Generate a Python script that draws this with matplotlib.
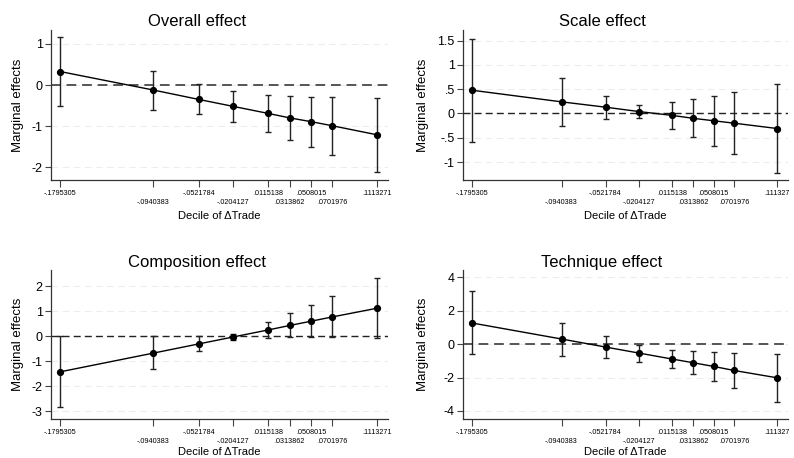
import matplotlib
matplotlib.use("Agg")
import numpy as np
import matplotlib.pyplot as plt

plt.rcParams['font.family'] = ['Liberation Sans', 'DejaVu Sans']

# ---------- data ---------- #
deciles = [-0.1795305, -0.0940383, -0.0521784, -0.0204127, 0.0115138,
           0.0313862, 0.0508015, 0.0701976, 0.1113271]
labels_left = ["-.1795305", "-.0940383", "-.0521784", "-.0204127", ".0115138",
               ".0313862", ".0508015", ".0701976", ".1113271"]
labels_right = ["-.1795305", "-.0940383", "-.0521784", "-.0204127", ".0115138",
                ".0313862", ".0508015", ".0701976", ".111327"]

overall_est = [0.33, -0.12, -0.35, -0.52, -0.69, -0.80, -0.89, -0.99, -1.21]
overall_lo = [-0.50, -0.60, -0.71, -0.90, -1.15, -1.33, -1.51, -1.70, -2.11]
overall_hi = [1.16, 0.34, 0.02, -0.14, -0.23, -0.26, -0.28, -0.30, -0.31]

scale_est = [0.48, 0.24, 0.13, 0.04, -0.04, -0.10, -0.15, -0.20, -0.31]
scale_lo = [-0.59, -0.26, -0.11, -0.10, -0.31, -0.48, -0.66, -0.84, -1.22]
scale_hi = [1.53, 0.74, 0.37, 0.18, 0.23, 0.29, 0.36, 0.44, 0.60]

comp_est = [-1.43, -0.68, -0.31, -0.03, 0.25, 0.43, 0.60, 0.77, 1.12]
comp_lo = [-2.85, -1.33, -0.61, -0.15, -0.08, -0.05, -0.05, -0.05, -0.08]
comp_hi = [0.00, -0.01, -0.01, 0.09, 0.57, 0.91, 1.25, 1.60, 2.33]

tech_est = [1.26, 0.30, -0.18, -0.54, -0.90, -1.12, -1.34, -1.58, -2.02]
tech_lo = [-0.60, -0.70, -0.82, -1.06, -1.46, -1.82, -2.22, -2.62, -3.46]
tech_hi = [3.14, 1.28, 0.46, -0.04, -0.36, -0.44, -0.50, -0.54, -0.60]


def stata_fmt(v):
    s = f"{v:g}"
    return s.replace("-0.", "-.").replace("0.", ".") if abs(v) < 1 and v != 0 else s


def draw_panel(ax, title, est, lo, hi, xlabels, yticks, ylim, zero_style,
               title_x, ylab_x, xlab_y):
    est = np.array(est); lo = np.array(lo); hi = np.array(hi)
    x = np.array(deciles)

    for yt in yticks:
        ax.axhline(yt, color="#ededed", lw=0.8, ls=(0, (6, 4)), zorder=0)
    zc, zw = zero_style
    ax.axhline(0, color=zc, lw=zw, ls=(0, (5, 3)), zorder=1)

    ax.errorbar(x, est, yerr=[est - lo, hi - est], fmt="none",
                ecolor="#222222", elinewidth=1.0, capsize=2, capthick=1.0, zorder=2)
    ax.plot(x, est, color="black", lw=1.0, marker="o", ms=4.2, zorder=3)

    ax.set_xlim(-0.1878, 0.1214)
    ax.set_ylim(*ylim)
    ax.set_yticks(yticks)
    ax.set_yticklabels([stata_fmt(v) for v in yticks], fontsize=9)
    ax.set_xticks(deciles)
    ax.set_xticklabels(xlabels, fontsize=5.2)
    ax.tick_params(axis="x", length=5, width=0.8, color="#444444", pad=2)
    ax.tick_params(axis="y", length=4, width=0.8, color="#444444", pad=2)
    # staggered decile labels: every second one a row lower
    for i, tk in enumerate(ax.xaxis.get_major_ticks()):
        if i % 2 == 1:
            tk.set_pad(8.5)

    for s in ["top", "right"]:
        ax.spines[s].set_visible(False)
    for s in ["left", "bottom"]:
        ax.spines[s].set_color("#333333")
        ax.spines[s].set_linewidth(0.9)

    ax.text(title_x, 1.0 + 8 / 150, title, transform=ax.transAxes,
            ha="center", va="center", fontsize=12)
    ax.set_ylabel("Marginal effects", fontsize=9.5)
    ax.yaxis.set_label_coords(ylab_x, 0.5)
    ax.set_xlabel("Decile of \u0394Trade", fontsize=8)
    ax.xaxis.set_label_coords(0.5, xlab_y)


fig = plt.figure(figsize=(7.94, 4.58), dpi=100)
ax1 = fig.add_axes([0.0642, 0.607, 0.4245, 0.3275])
ax2 = fig.add_axes([0.5831, 0.607, 0.4093, 0.3275])
ax3 = fig.add_axes([0.0642, 0.0851, 0.4245, 0.3253])
ax4 = fig.add_axes([0.5831, 0.0851, 0.4093, 0.3253])

draw_panel(ax1, "Overall effect", overall_est, overall_lo, overall_hi, labels_left,
           [-2, -1, 0, 1], (-2.31, 1.34), ("#555555", 1.4), 0.433, -0.080, -0.205)
draw_panel(ax2, "Scale effect", scale_est, scale_lo, scale_hi, labels_right,
           [-1, -0.5, 0, 0.5, 1, 1.5], (-1.37, 1.72), ("#222222", 1.0), 0.428, -0.105, -0.205)
draw_panel(ax3, "Composition effect", comp_est, comp_lo, comp_hi, labels_left,
           [-3, -2, -1, 0, 1, 2], (-3.32, 2.65), ("#222222", 1.0), 0.433, -0.080, -0.19)
draw_panel(ax4, "Technique effect", tech_est, tech_lo, tech_hi, labels_right,
           [-4, -2, 0, 2, 4], (-4.48, 4.42), ("#555555", 1.4), 0.428, -0.105, -0.19)

fig.savefig("out.png", dpi=100)
